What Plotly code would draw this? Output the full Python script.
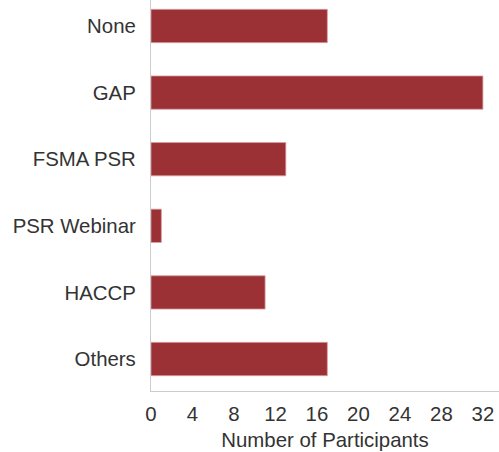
import plotly.graph_objects as go

categories = ["None", "GAP", "FSMA PSR", "PSR Webinar", "HACCP", "Others"]
participants = [17, 32, 13, 1, 11, 17]
x_ticks = [0, 4, 8, 12, 16, 20, 24, 28, 32]

fig = go.Figure()
fig.add_trace(go.Bar(
    y=categories, x=participants, orientation="h",
    width=0.5,
    marker=dict(color="#9b3035", line=dict(color="#d9a0a3", width=0.8)),
))

fig.update_xaxes(
    range=[0, 33.55], tickvals=x_ticks, showgrid=False, zeroline=False,
    showline=True, linecolor="#cccccc", linewidth=1.2,
    ticks="", ticklabelstandoff=4, automargin=False,
    tickfont=dict(size=20.4, color="#333333"),
    title=dict(text="Number of Participants", font=dict(size=20.4, color="#333333"), standoff=9),
)
fig.update_yaxes(
    range=[5.48, -0.39], showgrid=False, zeroline=False,
    showline=True, linecolor="#cccccc", linewidth=1.2,
    ticks="", ticklabelstandoff=10, automargin=False,
    tickfont=dict(size=20.4, color="#333333"),
)
fig.update_layout(
    width=499, height=452,
    margin=dict(l=151, r=0, t=0, b=61),
    plot_bgcolor="white", paper_bgcolor="white",
    font=dict(family="Liberation Sans, Arial, sans-serif"),
    showlegend=False,
)
# page body has a default margin; drop it so the chart sits at the corner
fig.write_html("out.html", config={"displayModeBar": False},
               post_script="document.body.style.margin='0';")
